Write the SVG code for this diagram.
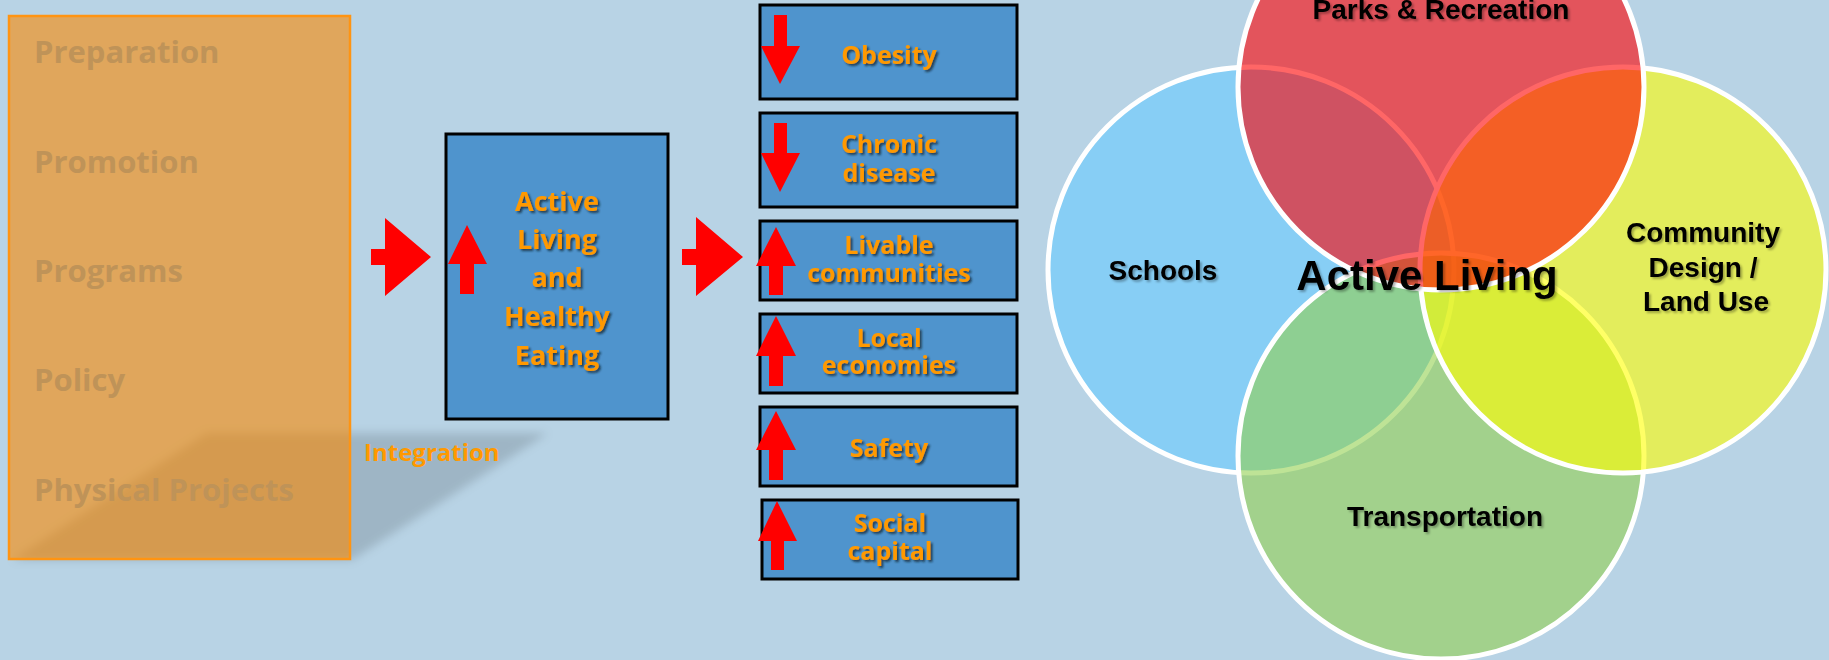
<svg xmlns="http://www.w3.org/2000/svg" width="1829" height="660" viewBox="0 0 1829 660">
<defs>
<style>
.stage{font-family:"Open Sans","Liberation Sans",sans-serif;font-weight:bold;font-size:31px;fill:#BF9358}
.otxt{font-family:"Open Sans","Liberation Sans",sans-serif;font-weight:bold;fill:#FF9900;text-anchor:middle}
.box{fill:#4F94CD;stroke:#000;stroke-width:3}
.red{fill:#FF0000}
.venn{fill-opacity:0.6;stroke:#FFFFFF;stroke-width:5}
.vtxt{font-family:"Liberation Sans",Arial,sans-serif;font-weight:bold;font-size:28px;fill:#000;text-anchor:middle}
.vbig{font-size:42px}
</style>
<filter id="ts" x="-10%" y="-30%" width="130%" height="170%">
<feDropShadow dx="2" dy="2" stdDeviation="1.2" flood-color="#14202e" flood-opacity="0.75"/>
</filter>
<filter id="vs" x="-10%" y="-30%" width="130%" height="170%">
<feDropShadow dx="2" dy="2" stdDeviation="1" flood-color="#000" flood-opacity="0.3"/>
</filter>
<filter id="blur" x="-20%" y="-20%" width="140%" height="140%">
<feGaussianBlur stdDeviation="5"/>
</filter>
</defs>
<rect x="0" y="0" width="1829" height="660" fill="#B8D3E5"/>

<g id="stages">
<polygon points="207,433 548,433 352,560 12,560" fill="#000" fill-opacity="0.14" filter="url(#blur)"/>
<rect x="9" y="16" width="341" height="543" fill="#FA8800" fill-opacity="0.6" stroke="#FF9412" stroke-width="2.5"/>
<text class="stage" x="34" y="63">Preparation</text>
<text class="stage" x="34" y="173">Promotion</text>
<text class="stage" x="34" y="282">Programs</text>
<text class="stage" x="34" y="391">Policy</text>
<text class="stage" x="34" y="501">Physical Projects</text>
</g>

<g id="integration-label">
<text class="otxt" x="364" y="461" font-size="24" style="text-anchor:start">Integration</text>
</g>

<g id="connectors">
<polygon class="red" points="371,249 385,249 385,218 431,257 385,296 385,265 371,265"/>
<polygon class="red" points="682,249 696,249 696,217 743,257 696,296 696,265 682,265"/>
</g>

<g id="active-living-box">
<rect class="box" x="446" y="134" width="222" height="285"/>
<polygon class="red" points="467,225 487,264 474,264 474,294 460,294 460,264 448,264"/>
<g class="otxt" font-size="27" filter="url(#ts)">
<text x="557" y="211">Active</text>
<text x="557" y="249">Living</text>
<text x="557" y="287">and</text>
<text x="557" y="326">Healthy</text>
<text x="557" y="365">Eating</text>
</g>
</g>

<g id="obesity">
<rect class="box" x="760" y="5" width="257" height="94"/>
<polygon class="red" points="774,15 787,15 787,46 800,46 780,84 761,46 774,46"/>
<text class="otxt" x="889" y="64" font-size="25" filter="url(#ts)">Obesity</text>
</g>

<g id="chronic-disease">
<rect class="box" x="760" y="113" width="257" height="94"/>
<polygon class="red" points="774,123 787,123 787,153 800,153 780,192 761,153 774,153"/>
<g class="otxt" font-size="25" filter="url(#ts)">
<text x="889" y="153">Chronic</text>
<text x="889" y="182">disease</text>
</g>
</g>

<g id="livable-communities">
<rect class="box" x="760" y="221" width="257" height="79"/>
<polygon class="red" points="776,227 796,266 783,266 783,295 769,295 769,266 756,266"/>
<g class="otxt" font-size="25" filter="url(#ts)">
<text x="889" y="254">Livable</text>
<text x="889" y="282">communities</text>
</g>
</g>

<g id="local-economies">
<rect class="box" x="760" y="314" width="257" height="79"/>
<polygon class="red" points="776,316 796,356 783,356 783,386 769,386 769,356 756,356"/>
<g class="otxt" font-size="25" filter="url(#ts)">
<text x="889" y="347">Local</text>
<text x="889" y="374">economies</text>
</g>
</g>

<g id="safety">
<rect class="box" x="760" y="407" width="257" height="79"/>
<polygon class="red" points="776,411 796,450 783,450 783,480 769,480 769,450 756,450"/>
<text class="otxt" x="889" y="457" font-size="25" filter="url(#ts)">Safety</text>
</g>

<g id="social-capital">
<rect class="box" x="762" y="500" width="256" height="79"/>
<polygon class="red" points="777,501 797,541 784,541 784,570 771,570 771,541 758,541"/>
<g class="otxt" font-size="25" filter="url(#ts)">
<text x="890" y="532">Social</text>
<text x="890" y="560">capital</text>
</g>
</g>

<g id="venn">
<circle id="schools" class="venn" cx="1251" cy="270" r="203" fill="#66CCFF"/>
<circle id="transportation" class="venn" cx="1441" cy="456" r="203" fill="#92D050"/>
<circle id="community-design" class="venn" cx="1623" cy="270" r="203" fill="#FFFF00"/>
<circle id="parks-recreation" class="venn" cx="1441" cy="87" r="203" fill="#FF0000"/>
<g filter="url(#vs)">
<text class="vtxt" x="1441" y="19">Parks &amp; Recreation</text>
<text class="vtxt" x="1163" y="280">Schools</text>
<text class="vtxt vbig" x="1427" y="290">Active Living</text>
<text class="vtxt" x="1703" y="242">Community</text>
<text class="vtxt" x="1703" y="277">Design /</text>
<text class="vtxt" x="1706" y="311">Land Use</text>
<text class="vtxt" x="1445" y="526">Transportation</text>
</g>
</g>
</svg>
